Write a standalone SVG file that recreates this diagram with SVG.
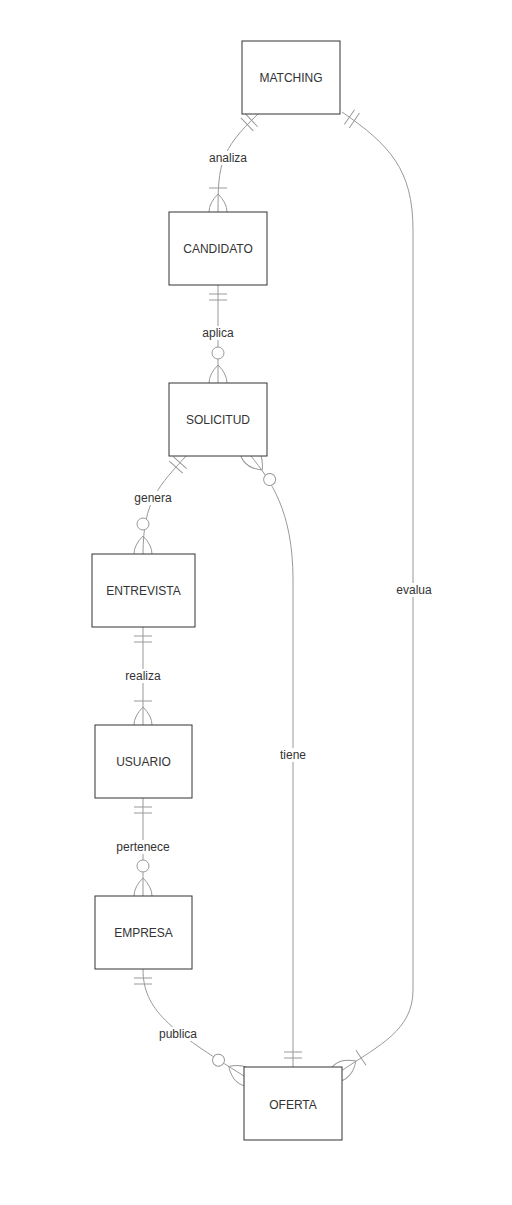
<svg xmlns="http://www.w3.org/2000/svg" width="512" height="1205" viewBox="0 0 512 1205">
<style>
.bg{fill:#fff}
.edge{fill:none;stroke:#999;stroke-width:1}
.mk{fill:none;stroke:#999;stroke-width:1}
.mkc{fill:#fff;stroke:#999;stroke-width:1}
.node rect{fill:#fff;stroke:#333;stroke-width:1}
.node text{font-family:"Liberation Sans",Arial,sans-serif;font-size:12px;fill:#333;text-anchor:middle}
.lbl rect{fill:#fff}
.lbl text{font-family:"Liberation Sans",Arial,sans-serif;font-size:12px;fill:#333;text-anchor:middle}
</style>
<defs>
<marker id="oneStart" markerUnits="userSpaceOnUse" markerWidth="60" markerHeight="40" refX="40" refY="20" orient="auto-start-reverse"><path class="mk" d="M31,11 L31,29 M25,11 L25,29"/></marker>
<marker id="oneEnd" markerUnits="userSpaceOnUse" markerWidth="60" markerHeight="40" refX="40" refY="20" orient="auto"><path class="mk" d="M31,11 L31,29 M25,11 L25,29"/></marker>
<marker id="zmStart" markerUnits="userSpaceOnUse" markerWidth="60" markerHeight="40" refX="40" refY="20" orient="auto-start-reverse"><path class="mk" d="M22,20 Q40,2 58,20 Q40,38 22,20"/><circle class="mkc" cx="10" cy="20" r="6"/></marker>
<marker id="zmEnd" markerUnits="userSpaceOnUse" markerWidth="60" markerHeight="40" refX="40" refY="20" orient="auto"><path class="mk" d="M22,20 Q40,2 58,20 Q40,38 22,20"/><circle class="mkc" cx="10" cy="20" r="6"/></marker>
<marker id="omEnd" markerUnits="userSpaceOnUse" markerWidth="60" markerHeight="40" refX="40" refY="20" orient="auto"><path class="mk" d="M16,11 L16,29 M22,20 Q40,2 58,20 Q40,38 22,20"/></marker>
</defs>
<rect class="bg" x="0" y="0" width="512" height="1205"/>
<g id="connectors">
<path id="e-analiza" class="edge" d="M258,114 C220,150 218,165 218,212" marker-start="url(#oneStart)" marker-end="url(#omEnd)"/>
<path id="e-aplica" class="edge" d="M218,285 L218,383" marker-start="url(#oneStart)" marker-end="url(#zmEnd)"/>
<path id="e-genera" class="edge" d="M186,456 C160,485 143,500 143,554" marker-start="url(#oneStart)" marker-end="url(#zmEnd)"/>
<path id="e-realiza" class="edge" d="M143,627 L143,725" marker-start="url(#oneStart)" marker-end="url(#omEnd)"/>
<path id="e-pertenece" class="edge" d="M143,798 L143,896" marker-start="url(#oneStart)" marker-end="url(#zmEnd)"/>
<path id="e-publica" class="edge" d="M143,969 C143,1010 170,1030 244,1076" marker-start="url(#oneStart)" marker-end="url(#zmEnd)"/>
<path id="e-tiene" class="edge" d="M251,456 C270,480 293,510 293,580 L293,1067" marker-start="url(#zmStart)" marker-end="url(#oneEnd)"/>
<path id="e-evalua" class="edge" d="M342,112 C390,145 413,170 413,230 L413,990 C413,1030 380,1045 341,1071" marker-start="url(#oneStart)" marker-end="url(#omEnd)"/>
<g class="lbl">
<rect x="209" y="151" width="38" height="14"/><text x="228" y="162">analiza</text>
<rect x="202" y="326" width="32" height="14"/><text x="218" y="337">aplica</text>
<rect x="135" y="491" width="36" height="14"/><text x="153" y="502">genera</text>
<rect x="125" y="669" width="36" height="14"/><text x="143" y="680">realiza</text>
<rect x="117" y="840" width="52" height="14"/><text x="143" y="851">pertenece</text>
<rect x="159" y="1027" width="38" height="14"/><text x="178" y="1038">publica</text>
<rect x="279" y="748" width="28" height="14"/><text x="293" y="759">tiene</text>
<rect x="396" y="583" width="36" height="14"/><text x="414" y="594">evalua</text>
</g>
</g>
<g id="MATCHING" class="node"><rect x="242" y="41" width="98" height="73"/><text x="291" y="82">MATCHING</text></g>
<g id="CANDIDATO" class="node"><rect x="169" y="212" width="98" height="73"/><text x="218" y="253">CANDIDATO</text></g>
<g id="SOLICITUD" class="node"><rect x="169" y="383" width="98" height="73"/><text x="218" y="424">SOLICITUD</text></g>
<g id="ENTREVISTA" class="node"><rect x="92" y="554" width="103" height="73"/><text x="143.5" y="595">ENTREVISTA</text></g>
<g id="USUARIO" class="node"><rect x="95" y="725" width="97" height="73"/><text x="143.5" y="766">USUARIO</text></g>
<g id="EMPRESA" class="node"><rect x="95" y="896" width="97" height="73"/><text x="143.5" y="937">EMPRESA</text></g>
<g id="OFERTA" class="node"><rect x="244" y="1067" width="98" height="73"/><text x="293" y="1109">OFERTA</text></g>
</svg>
